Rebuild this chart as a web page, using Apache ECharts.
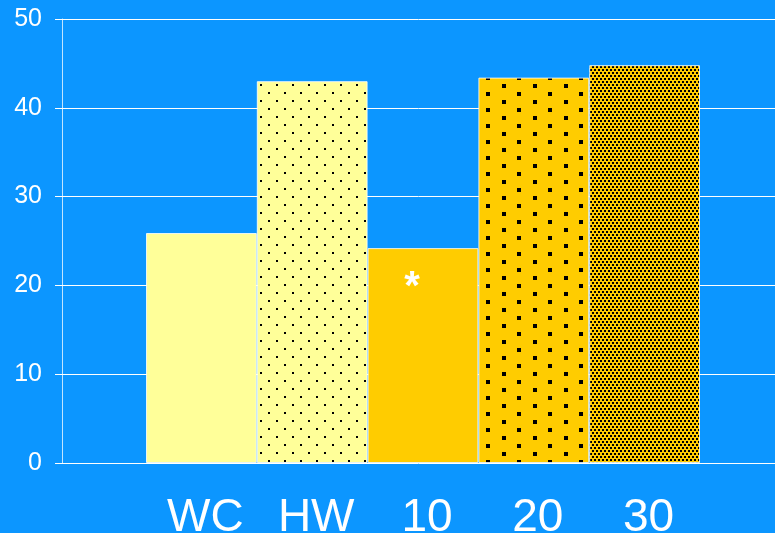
<!DOCTYPE html>
<html>
<head>
<meta charset="utf-8">
<script src="https://cdn.jsdelivr.net/npm/echarts@6/dist/echarts.min.js"></script>
<style>
  html, body { margin: 0; padding: 0; background: #0c96ff; }
  #chart { width: 775px; height: 533px; }
</style>
</head>
<body>
<div id="chart"></div>
<script>
// values
const categories = ['WC', 'HW', '10', '20', '30']
const values = [25.9, 43.0, 24.2, 43.4, 44.8]
const yTicks = [0, 10, 20, 30, 40, 50]
const markedCategory = '10'   // bar that carries the asterisk

const LIGHT = '#ffff99'
const GOLD = '#ffcc00'

// small tiled patterns for the dotted bars
function dotPattern(bg, w, h, size, dots) {
    const c = document.createElement('canvas')
    c.width = w
    c.height = h
    const ctx = c.getContext('2d')
    ctx.fillStyle = bg
    ctx.fillRect(0, 0, w, h)
    ctx.fillStyle = '#000'
    dots.forEach(d => ctx.fillRect(d[0], d[1], size, size))
    return {image: c, repeat: 'repeat'}
}

const fills = {
    WC: LIGHT,
    HW: dotPattern(LIGHT, 16, 16, 2, [[4, 4], [12, 12]]),
    '10': GOLD,
    '20': dotPattern(GOLD, 31, 16, 4, [[6, 4], [21, 12]]),
    '30': dotPattern(GOLD, 4, 6, 2, [[0, 0], [2, 3]])
}

const chart = echarts.init(document.getElementById('chart'))

const barData = categories.map((name, i) => {
    const item = {
        value: values[i],
        itemStyle: {color: fills[name]}
    }
    if (name === markedCategory) {
        item.label = {
            show: true,
            position: 'insideTop',
            formatter: '*',
            color: '#fff',
            fontSize: 40,
            fontWeight: 'bold',
            fontFamily: 'Liberation Sans, Arial, sans-serif',
            offset: [-11, 15]
        }
    }
    return item
})

chart.setOption({
    backgroundColor: '#0c96ff',
    animation: false,
    grid: [
        {left: 62, right: 0, top: 19, bottom: 70, outerBoundsMode: 'none', containLabel: false},
        {left: 146, right: 75, top: 19, bottom: 70, outerBoundsMode: 'none', containLabel: false}
    ],
    xAxis: [
        {gridIndex: 0, type: 'value', min: 0, max: 1, show: false},
        {
            gridIndex: 1,
            type: 'category',
            data: categories,
            axisLine: {show: false},
            axisTick: {show: false},
            axisLabel: {
                color: '#fff',
                fontSize: 46,
                fontFamily: 'Liberation Sans, Arial, sans-serif',
                margin: 32,
                padding: [0, 0, 0, 8]
            }
        }
    ],
    yAxis: [
        {
            gridIndex: 0,
            type: 'value',
            min: yTicks[0],
            max: yTicks[yTicks.length - 1],
            interval: 10,
            axisLine: {show: true, lineStyle: {color: 'rgba(255,255,255,0.75)', width: 1}},
            axisTick: {show: true, length: 7, lineStyle: {color: '#fff'}},
            splitLine: {show: true, lineStyle: {color: '#fff', width: 1}},
            axisLabel: {
                color: '#fff',
                fontSize: 25,
                fontFamily: 'Liberation Sans, Arial, sans-serif',
                margin: 20
            }
        },
        {gridIndex: 1, type: 'value', min: 0, max: 50, show: false}
    ],
    series: [{
        type: 'bar',
        xAxisIndex: 1,
        yAxisIndex: 1,
        barCategoryGap: '0%',
        itemStyle: {borderColor: 'rgba(255,255,255,0.8)', borderWidth: 1},
        data: barData
    }]
})
</script>
</body>
</html>
